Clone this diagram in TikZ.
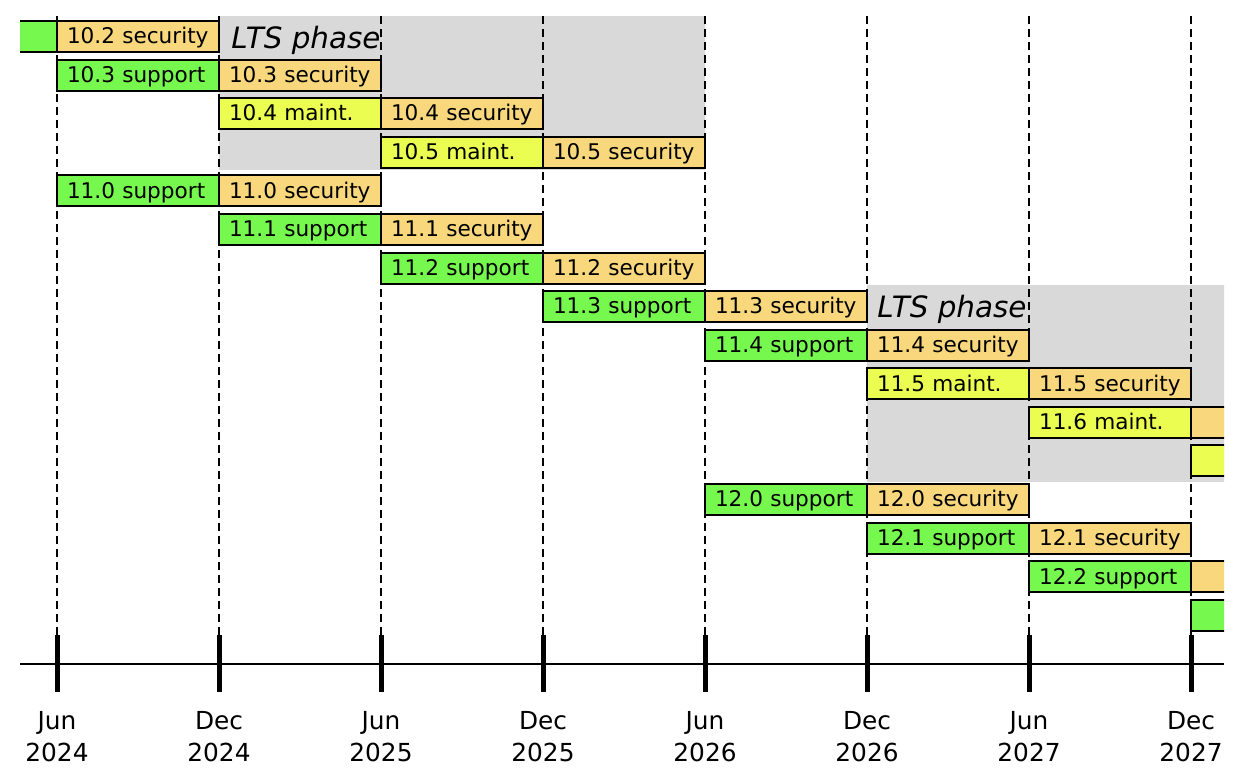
\documentclass[tikz,border=0pt]{standalone}
\usepackage{fontspec}
\setmainfont{DejaVu Sans}
\definecolor{support}{HTML}{77F84F}
\definecolor{security}{HTML}{F9D77C}
\definecolor{maint}{HTML}{EAFD50}
\definecolor{ltsgray}{HTML}{D9D9D9}
\tikzset{
  phasebar/.style={draw=black, line width=1pt, anchor=west, outer sep=0pt,
    minimum width=81pt, minimum height=15.5pt, inner xsep=5pt, inner ysep=0pt,
    text width=71pt, align=left, text height=0.73em, text depth=0pt,
    font=\fontsize{10.8}{12}\selectfont},
  guide/.style={dash pattern=on 4pt off 2.5pt, line width=0.9pt},
  tickmark/.style={line width=2.5pt},
  ltslabel/.style={anchor=base west, inner sep=0pt, font=\fontsize{14.7}{17}\selectfont\itshape},
  datelabel/.style={align=center, inner sep=0pt, font=\fontsize{12.4}{15.85}\selectfont}
}

\begin{document}
\begin{tikzpicture}[x=0.5pt, y=-0.5pt]
  \useasboundingbox (0,0) rectangle (1246,776);

  \begin{scope}
    \clip (20,0) rectangle (1224,776);
    % LTS phases
    \fill[ltsgray] (219,16) rectangle (705,170);
    \fill[ltsgray] (867,285) rectangle (1300,482);
    \node[ltslabel] (lts-a) at (231,48.3) {LTS phase};
    \node[ltslabel] (lts-b) at (877,317.5) {LTS phase};

    % guides, axis and ticks
    \foreach \k in {0,...,7} {
      \coordinate (guide-\k) at (57+162*\k,16);
      \coordinate (tick-\k) at (57+162*\k,635);
      \coordinate (tickend-\k) at (57+162*\k,692);
      \draw[guide] (guide-\k) -- (tick-\k);
      \draw[tickmark] (tick-\k) -- (tickend-\k);
    }
    \coordinate (axis-l) at (20,664);
    \coordinate (axis-r) at (1224,664);
    \draw[line width=0.8pt] (axis-l) -- (axis-r);

    % release phases: row / start tick / colour / text
    \foreach \r/\k/\c/\lbl in {
      1/-1/support/{}, 1/0/security/{10.2 security},
      2/0/support/{10.3 support}, 2/1/security/{10.3 security},
      3/1/maint/{10.4 maint.}, 3/2/security/{10.4 security},
      4/2/maint/{10.5 maint.}, 4/3/security/{10.5 security},
      5/0/support/{11.0 support}, 5/1/security/{11.0 security},
      6/1/support/{11.1 support}, 6/2/security/{11.1 security},
      7/2/support/{11.2 support}, 7/3/security/{11.2 security},
      8/3/support/{11.3 support}, 8/4/security/{11.3 security},
      9/4/support/{11.4 support}, 9/5/security/{11.4 security},
      10/5/maint/{11.5 maint.}, 10/6/security/{11.5 security},
      11/6/maint/{11.6 maint.}, 11/7/security/{},
      12/7/maint/{},
      13/4/support/{12.0 support}, 13/5/security/{12.0 security},
      14/5/support/{12.1 support}, 14/6/security/{12.1 security},
      15/6/support/{12.2 support}, 15/7/security/{},
      16/7/support/{}} {
      \pgfmathsetmacro\bx{57+162*\k}
      \pgfmathsetmacro\by{36.5+38.59*(\r-1)}
      \node[phasebar, fill=\c] (bar-\r-\k) at (\bx,\by) {\mbox{\lbl}};
    }
  \end{scope}

  % dates
  \foreach \k/\m/\yr in {0/Jun/2024, 1/Dec/2024, 2/Jun/2025, 3/Dec/2025,
                         4/Jun/2026, 5/Dec/2026, 6/Jun/2027, 7/Dec/2027} {
    \node[datelabel] (date-\k) at (57+162*\k,736.5) {\m\\\yr};
  }
\end{tikzpicture}
\end{document}
